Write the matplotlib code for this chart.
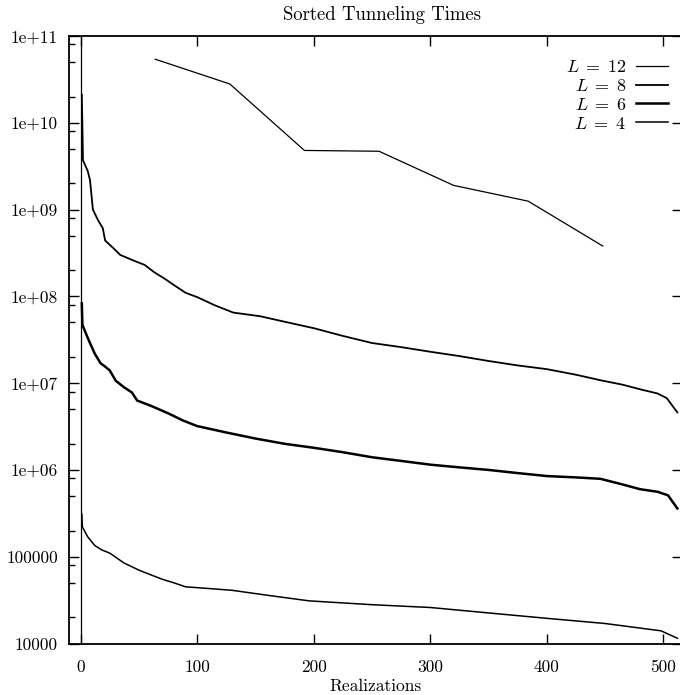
"""
Sorted tunneling times vs realizations (log scale), gnuplot-like look
"""
import matplotlib
matplotlib.use('Agg')
import matplotlib.pyplot as plt
from matplotlib.ticker import FixedLocator, NullFormatter

plt.rcParams['font.family'] = ['cmr10', 'DejaVu Serif']
plt.rcParams['mathtext.fontset'] = 'cm'
plt.rcParams['axes.formatter.use_mathtext'] = True

# Datos
x_L12 = [64, 128, 192, 256, 320, 384, 448]
y_L12 = [5.4e10, 2.8e10, 4.8e9, 4.7e9, 1.9e9, 1.25e9, 3.8e8]

x_L8 = [1, 2, 6, 8, 10.5, 15, 19, 21, 28, 34, 45, 55, 63, 72, 80, 90, 100,
        115, 131, 154, 175, 200, 225, 250, 275, 300, 325, 350, 375, 400, 425,
        446, 465, 480, 495, 503, 512]
y_L8 = [2.1e10, 3.7e9, 2.8e9, 2.2e9, 1.0e9, 7.5e8, 6.1e8, 4.4e8, 3.6e8,
        3.0e8, 2.6e8, 2.3e8, 1.9e8, 1.6e8, 1.35e8, 1.1e8, 9.8e7, 7.9e7, 6.5e7,
        5.9e7, 5.1e7, 4.3e7, 3.5e7, 2.9e7, 2.6e7, 2.3e7, 2.05e7, 1.8e7,
        1.6e7, 1.45e7, 1.25e7, 1.08e7, 9.6e6, 8.5e6, 7.6e6, 6.7e6, 4.6e6]

x_L6 = [1, 1.5, 5, 8, 12, 17, 21, 25, 30, 37, 44, 48.5, 60, 75, 88, 100,
        125, 150, 175, 200, 225, 250, 275, 300, 325, 350, 375, 400, 425, 446,
        465, 480, 495, 504, 512]
y_L6 = [8.3e7, 4.7e7, 3.6e7, 2.9e7, 2.2e7, 1.7e7, 1.55e7, 1.4e7, 1.07e7,
        9.0e6, 7.8e6, 6.3e6, 5.5e6, 4.5e6, 3.7e6, 3.2e6, 2.7e6, 2.3e6, 2.0e6,
        1.8e6, 1.6e6, 1.4e6, 1.27e6, 1.15e6, 1.07e6, 1.0e6, 9.2e5, 8.5e5,
        8.2e5, 7.9e5, 6.8e5, 6.0e5, 5.6e5, 5.1e5, 3.6e5]

x_L4 = [1, 1.5, 6, 12, 18, 25, 37, 50, 60, 70, 80, 90, 110, 130, 160, 196,
        250, 300, 350, 400, 450, 498, 512]
y_L4 = [3.1e5, 2.2e5, 1.7e5, 1.35e5, 1.2e5, 1.1e5, 8.5e4, 7.0e4, 6.2e4,
        5.5e4, 5.0e4, 4.5e4, 4.3e4, 4.1e4, 3.6e4, 3.1e4, 2.8e4, 2.6e4,
        2.25e4, 1.95e4, 1.7e4, 1.4e4, 1.15e4]

x_ticks = [0, 100, 200, 300, 400, 500]
y_ticks = [1e4, 1e5, 1e6, 1e7, 1e8, 1e9, 1e10, 1e11]
y_tick_labels = ['10000', '100000', '1e+06', '1e+07', '1e+08', '1e+09',
                 '1e+10', '1e+11']

fig = plt.figure(figsize=(6.8, 6.95), dpi=100)
ax = fig.add_axes([69 / 680, 1 - 643.5 / 695, 613 / 680, 607.5 / 695])

ax.plot(x_L12, y_L12, color='black', linewidth=0.9, label=r'$L\;=\;12$')
ax.plot(x_L8, y_L8, color='black', linewidth=1.3, label=r'$L\;=\;8$')
ax.plot(x_L6, y_L6, color='black', linewidth=1.8, label=r'$L\;=\;6$')
ax.plot(x_L4, y_L4, color='black', linewidth=1.1, label=r'$L\;=\;4$')

# eje cero (gnuplot lo dibuja por defecto)
ax.axvline(0, color='black', linewidth=0.9)

ax.set_yscale('log')
ax.set_xlim(-10, 516)
ax.set_ylim(1e4, 1e11)

ax.set_xticks(x_ticks)
ax.set_xticklabels([str(t) for t in x_ticks])
ax.yaxis.set_major_locator(FixedLocator(y_ticks))
ax.set_yticklabels(y_tick_labels)
minor = [m * 10 ** e for e in range(4, 11) for m in (2, 5, 8)]
ax.yaxis.set_minor_locator(FixedLocator(minor))
ax.yaxis.set_minor_formatter(NullFormatter())

ax.tick_params(axis='both', which='major', direction='in', length=7,
               width=1.0, labelsize=12.5, top=True, right=True, pad=8)
ax.tick_params(axis='y', which='minor', direction='in', length=4,
               width=1.0, right=False)
ax.tick_params(axis='x', which='major', pad=12)

for sp in ax.spines.values():
    sp.set_linewidth(1.3)

ax.set_xlabel('Realizations', fontsize=12.5, labelpad=2)
fig.text(382 / 680, 1 - 15 / 695, 'Sorted Tunneling Times', fontsize=13.5,
         ha='center', va='center')

ax.legend(loc='upper right', bbox_to_anchor=(668 / 680, 1 - 59 / 695),
          bbox_transform=fig.transFigure, frameon=False, markerfirst=False,
          fontsize=13, handlelength=1.75, handletextpad=0.55,
          labelspacing=0.16, borderpad=0, borderaxespad=0)

fig.savefig('out.png', dpi=100)
